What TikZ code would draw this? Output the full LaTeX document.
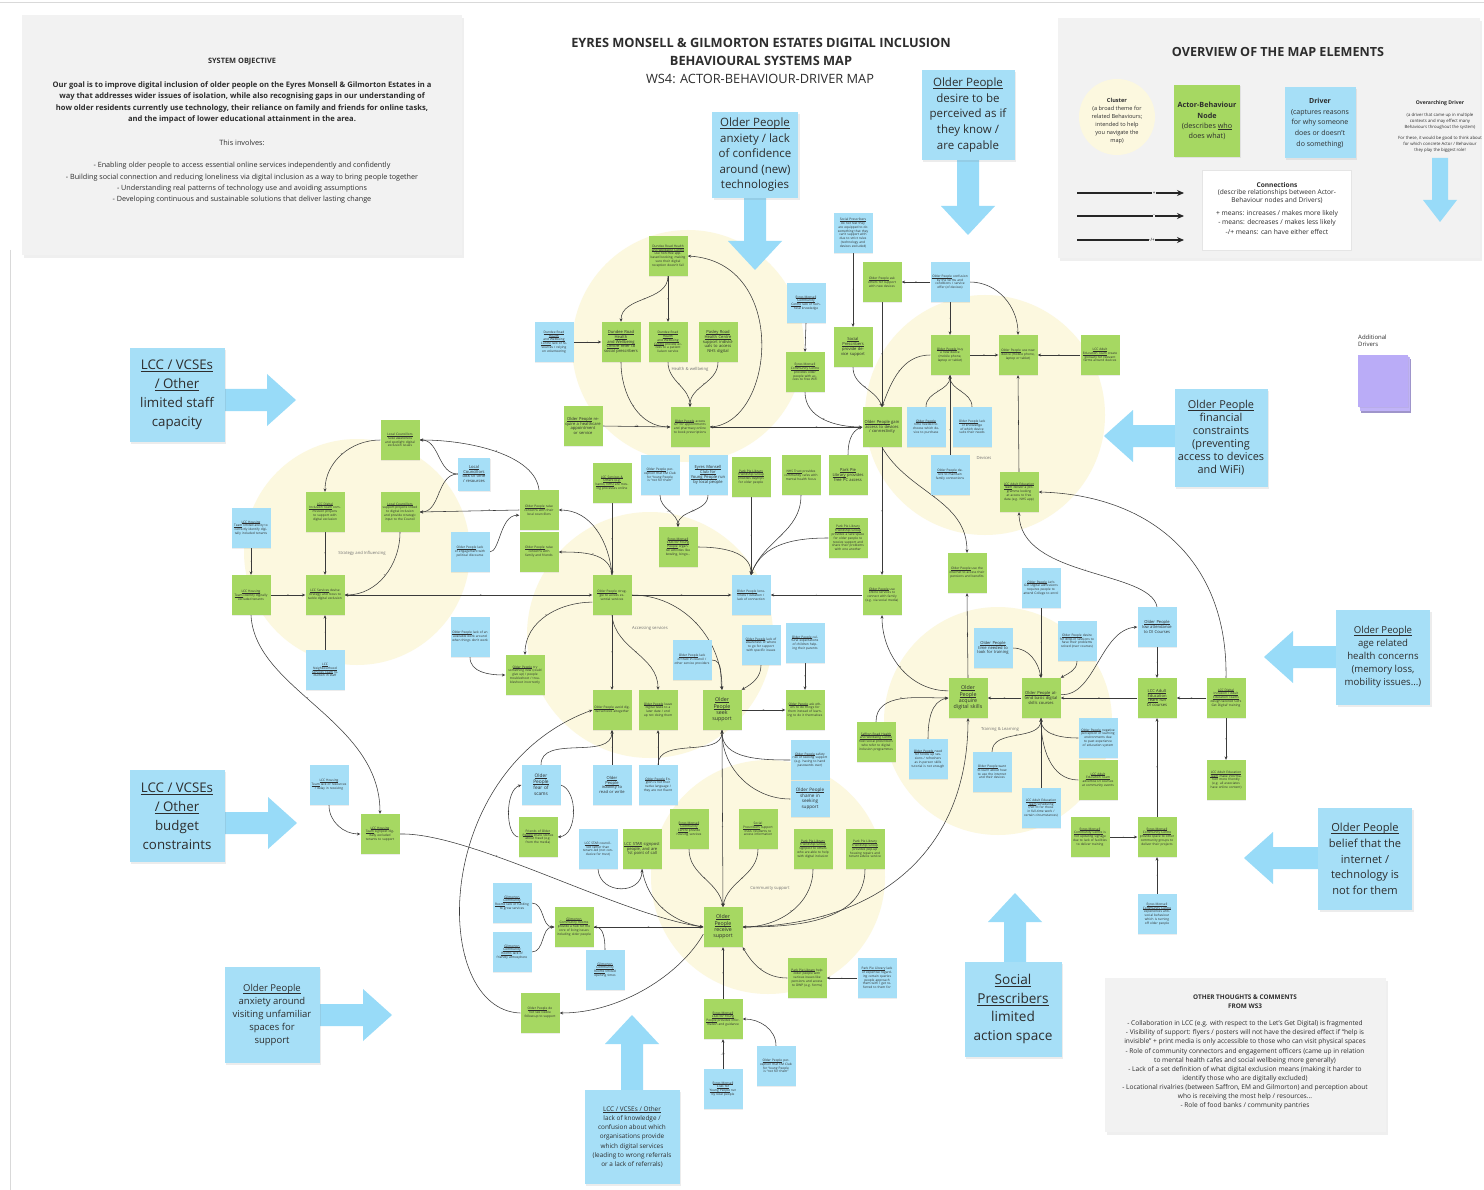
\documentclass[tikz,border=0pt]{standalone}
\usepackage{fontspec}
\setmainfont{Open Sans}
\usetikzlibrary{arrows.meta,shadows}
\definecolor{nodeG}{RGB}{166,216,98}
\definecolor{nodeB}{RGB}{166,223,247}
\definecolor{arrB}{RGB}{152,219,248}
\definecolor{clY}{RGB}{252,248,223}
\definecolor{panelG}{RGB}{242,242,242}
\definecolor{lineC}{RGB}{58,58,58}
\definecolor{textC}{RGB}{45,45,45}
\definecolor{purp}{RGB}{186,172,247}
\newcommand{\actr}[1]{\leavevmode\setbox0\hbox{#1}\rlap{\rule[-0.16em]{\wd0}{0.05em}}\box0\relax}
\newcommand{\fsA}{\fontsize{3.2}{3.85}\selectfont}
\newcommand{\fsB}{\fontsize{4.1}{4.9}\selectfont}
\newcommand{\fsC}{\fontsize{5.3}{6.4}\selectfont}
\newcommand{\arrDown}[3]{\fill[arrB] ({#1-11},#2) -- ({#1+11},#2) -- ({#1+11},{#3-29}) -- ({#1+27},{#3-29}) -- (#1,#3) -- ({#1-27},{#3-29}) -- ({#1-11},{#3-29}) -- cycle;}
\newcommand{\arrUp}[3]{\fill[arrB] ({#1-11},#2) -- ({#1+11},#2) -- ({#1+11},{#3+29}) -- ({#1+27},{#3+29}) -- (#1,#3) -- ({#1-27},{#3+29}) -- ({#1-11},{#3+29}) -- cycle;}
\newcommand{\arrRight}[3]{\fill[arrB] (#2,{#1-11}) -- ({#3-29},{#1-11}) -- ({#3-29},{#1-26}) -- (#3,#1) -- ({#3-29},{#1+26}) -- ({#3-29},{#1+11}) -- (#2,{#1+11}) -- cycle;}
\newcommand{\arrLeft}[3]{\fill[arrB] (#2,{#1-11}) -- ({#3+29},{#1-11}) -- ({#3+29},{#1-26}) -- (#3,#1) -- ({#3+29},{#1+26}) -- ({#3+29},{#1+11}) -- (#2,{#1+11}) -- cycle;}
\pgfdeclarelayer{bg}
\pgfdeclarelayer{mid}
\pgfsetlayers{bg,mid,main}
\tikzset{
  nd/.style={rectangle, minimum width=39pt, minimum height=40pt, text width=35.5pt, align=center, inner sep=1.5pt, text=textC, font=\fsA, drop shadow={opacity=0.15,shadow xshift=0.7pt,shadow yshift=-1pt}},
  gn/.style={nd, fill=nodeG},
  bn/.style={nd, fill=nodeB},
  drv/.style={rectangle, fill=nodeB, align=center, text=textC, inner sep=0pt, drop shadow={opacity=0.15,shadow xshift=1.5pt,shadow yshift=-2pt}},
  panel/.style={rectangle, fill=panelG, inner sep=0pt, drop shadow={opacity=0.12,shadow xshift=2pt,shadow yshift=-3pt}},
  con/.style={draw=lineC, line width=0.55pt, -{Stealth[length=3.4pt,width=3pt]}},
  sg/.style={font=\fontsize{3.4}{3.4}\selectfont, text=lineC, inner sep=0.3pt},
  clu/.style={circle, fill=clY, inner sep=0pt},
  cll/.style={font=\fontsize{4.2}{5}\selectfont, text=black!55},
  txt/.style={text=textC, align=center, inner sep=0pt},
  legarr/.style={draw=black!85, line width=1.4pt, -{Stealth[length=7pt,width=6pt]}}
}
\begin{document}
\begin{tikzpicture}[x=1pt,y=-1pt]
\useasboundingbox (0,0) rectangle (1484,1190);
\begin{pgfonlayer}{bg}
\fill[white] (0,0) rectangle (1484,1190);
\draw[black!15, line width=0.6pt] (0,2) -- (1484,2);
\draw[black!15, line width=0.6pt] (10,250) -- (10,1190);
% panels
\node[panel, minimum width=440pt, minimum height=240pt] (objP) at (242,135) {};
\node[panel, minimum width=422pt, minimum height=240pt] (legP) at (1269,138) {};
\node[panel, minimum width=281pt, minimum height=154pt] (comP) at (1245.5,1055) {};
% clusters
\node[clu, minimum size=232pt] (cH) at (688,346) {};
\node[clu, minimum size=240pt] (cD) at (985,415) {};
\node[clu, minimum size=226pt] (cS) at (357,552) {};
\node[clu, minimum size=246pt] (cA) at (650,635) {};
\node[clu, minimum size=228pt] (cT) at (998,721) {};
\node[clu, minimum size=234pt] (cC) at (768,877) {};
% big driver arrows
\arrDown{755}{190}{270}
\arrDown{968}{155}{235}
\arrRight{400}{220}{296}
\arrLeft{436}{1180}{1104}
\arrLeft{657}{1340}{1264}
\arrRight{823}{220}{297}
\arrLeft{858}{1322}{1244}
\arrUp{1015}{966}{893}
\arrRight{1015}{315}{392}
\arrUp{632}{1095}{1015}
\fill[arrB] (1432,158) -- (1448,158) -- (1448,200) -- (1457,200) -- (1440,222) -- (1423,200) -- (1432,200) -- cycle;
\end{pgfonlayer}

% ---------- titles ----------
\node[txt, font=\fontsize{12.8}{14}\selectfont\bfseries] (tt1) at (761,43) {EYRES MONSELL \& GILMORTON ESTATES DIGITAL INCLUSION};
\node[txt, font=\fontsize{12.8}{14}\selectfont\bfseries] (tt2) at (761,61) {BEHAVIOURAL SYSTEMS MAP};
\node[txt, font=\fontsize{12.8}{14}\selectfont] (tt3) at (760,79) {WS4: ACTOR-BEHAVIOUR-DRIVER MAP};

% ---------- system objective ----------
\node[txt, font=\fontsize{7.4}{8}\selectfont\bfseries] (objT) at (242,62) {SYSTEM OBJECTIVE};
\node[txt, font=\fontsize{7.6}{11.6}\selectfont\bfseries] (objG) at (242,102.5) {Our goal is to improve digital inclusion of older people on the Eyres Monsell \& Gilmorton Estates in a\\way that addresses wider issues of isolation, while also recognising gaps in our understanding of\\how older residents currently use technology, their reliance on family and friends for online tasks,\\and the impact of lower educational attainment in the area.};
\node[txt, font=\fontsize{7.3}{8}\selectfont] (objI) at (242,143) {This involves:};
\node[txt, font=\fontsize{7.2}{11.4}\selectfont] (objB) at (242,183) {- Enabling older people to access essential online services independently and confidently\\- Building social connection and reducing loneliness via digital inclusion as a way to bring people together\\- Understanding real patterns of technology use and avoiding assumptions\\- Developing continuous and sustainable solutions that deliver lasting change};

% ---------- legend ----------
\node[txt, font=\fontsize{12.6}{14}\selectfont\bfseries] (lgT) at (1278,52) {OVERVIEW OF THE MAP ELEMENTS};
\node[circle, fill=clY, minimum size=76pt, inner sep=0pt] (lgC) at (1117,117) {};
\node[txt, font=\fontsize{5.6}{8}\selectfont] (lgCt) at (1117,121) {\textbf{Cluster}\\(a broad theme for\\related Behaviours;\\intended to help\\you navigate the\\map)};
\node[rectangle, fill=nodeG, minimum width=66pt, minimum height=72pt, txt, font=\fontsize{7.2}{10.3}\selectfont, drop shadow={opacity=0.15,shadow xshift=1pt,shadow yshift=-1.5pt}] (lgA) at (1207,121) {\textbf{Actor-Behaviour}\\\textbf{Node}\\(describes \actr{who}\\does what)};
\node[rectangle, fill=nodeB, minimum width=71pt, minimum height=71pt, txt, font=\fontsize{7}{10.7}\selectfont, drop shadow={opacity=0.15,shadow xshift=1pt,shadow yshift=-1.5pt}] (lgD) at (1320,123) {\textbf{Driver}\\(captures reasons\\for why someone\\does or doesn't\\do something)};
\node[txt, font=\fontsize{5.1}{6}\selectfont\bfseries] (lgO1) at (1440,103) {Overarching Driver};
\node[txt, font=\fontsize{4.3}{6}\selectfont] (lgO2) at (1440,121) {(a driver that came up in multiple\\contexts and may effect many\\Behaviours throughout the system)};
\node[txt, font=\fontsize{4.3}{6}\selectfont] (lgO3) at (1440,144) {For these, it would be good to think about\\for which concrete Actor / Behaviour\\they play the biggest role!};
\node[rectangle, fill=white, draw=black!10, minimum width=149pt, minimum height=80pt] (lgB) at (1277,210) {};
\node[txt, font=\fontsize{6.6}{8}\selectfont\bfseries] (lgB1) at (1277,185) {Connections};
\node[txt, font=\fontsize{6.6}{8}\selectfont] (lgB2) at (1277,197) {(describe relationships between Actor-\\Behaviour nodes and Drivers)};
\node[txt, font=\fontsize{6.7}{9.5}\selectfont] (lgB3) at (1277,222.5) {+ means: increases / makes more likely\\- means: decreases / makes less likely\\-/+ means: can have either effect};
\coordinate (la1) at (1077,193); \coordinate (lb1) at (1184,193);
\coordinate (la2) at (1077,216); \coordinate (lb2) at (1184,216);
\coordinate (la3) at (1077,240); \coordinate (lb3) at (1184,240);
\draw[legarr] (la1) -- node[pos=0.72, font=\fontsize{4.5}{4.5}\selectfont, inner sep=0.5pt, fill=panelG]{+} (lb1);
\draw[legarr] (la2) -- node[pos=0.72, font=\fontsize{4.5}{4.5}\selectfont, inner sep=0.5pt, fill=panelG]{-} (lb2);
\draw[legarr] (la3) -- node[pos=0.70, font=\fontsize{4.5}{4.5}\selectfont, inner sep=0.5pt, fill=panelG]{-/+} (lb3);

% additional drivers
\node[font=\fontsize{6}{7.5}\selectfont, text=textC, align=left, anchor=west, inner sep=0pt] (adT) at (1358,341) {Additional\\Drivers};
\fill[purp!80!black!90] (1361,359) rectangle (1411,413);
\fill[purp!90] (1359.5,357) rectangle (1409.5,411);
\node[rectangle, fill=purp, minimum width=50pt, minimum height=52pt, inner sep=0pt, drop shadow={opacity=0.12,shadow xshift=1pt,shadow yshift=-1pt}] (adP) at (1383,381) {};

% ---------- comments ----------
\node[txt, font=\fontsize{6.4}{9}\selectfont\bfseries] (cmT) at (1245,1001.5) {OTHER THOUGHTS \& COMMENTS\\FROM WS3};
\node[txt, font=\fontsize{6.6}{9.1}\selectfont] (cmB) at (1245,1065) {- Collaboration in LCC (e.g. with respect to the Let's Get Digital) is fragmented\\- Visibility of support: flyers / posters will not have the desired effect if ``help is\\invisible'' + print media is only accessible to those who can visit physical spaces\\- Role of community connectors and engagement officers (came up in relation\\to mental health cafes and social wellbeing more generally)\\- Lack of a set definition of what digital exclusion means (making it harder to\\identify those who are digitally excluded)\\- Locational rivalries (between Saffron, EM and Gilmorton) and perception about\\who is receiving the most help / resources...\\- Role of food banks / community pantries};

% ---------- big drivers ----------
\node[drv, minimum width=86pt, minimum height=86pt, font=\fontsize{11.5}{15.5}\selectfont] (D1) at (755,155) {\actr{Older People}\\anxiety / lack\\of confidence\\around (new)\\technologies};
\node[drv, minimum width=93pt, minimum height=90pt, font=\fontsize{11.5}{15.8}\selectfont] (D2) at (968,115) {\actr{Older People}\\desire to be\\perceived as if\\they know /\\are capable};
\node[drv, minimum width=95pt, minimum height=94pt, font=\fontsize{13.3}{19}\selectfont] (D3) at (177,395) {\actr{LCC / VCSEs}\\\actr{/ Other}\\limited staff\\capacity};
\node[drv, minimum width=93pt, minimum height=97pt, font=\fontsize{10.9}{13}\selectfont] (D4) at (1221,438) {\actr{Older People}\\financial\\constraints\\(preventing\\access to devices\\and WiFi)};
\node[drv, minimum width=94pt, minimum height=95pt, font=\fontsize{9.6}{13}\selectfont] (D5) at (1383,657) {\actr{Older People}\\age related\\health concerns\\(memory loss,\\mobility issues...)};
\node[drv, minimum width=95pt, minimum height=92pt, font=\fontsize{13.3}{19}\selectfont] (D6) at (177,816) {\actr{LCC / VCSEs}\\\actr{/ Other}\\budget\\constraints};
\node[drv, minimum width=94pt, minimum height=102pt, font=\fontsize{11.1}{15.7}\selectfont] (D7) at (1365,859) {\actr{Older People}\\belief that the\\internet /\\technology is\\not for them};
\node[drv, minimum width=97pt, minimum height=95pt, font=\fontsize{13.6}{18.8}\selectfont] (D8) at (1013,1009) {\actr{Social}\\\actr{Prescribers}\\limited\\action space};
\node[drv, minimum width=95pt, minimum height=96pt, font=\fontsize{9.5}{13}\selectfont] (D9) at (272,1015) {\actr{Older People}\\anxiety around\\visiting unfamiliar\\spaces for\\support};
\node[drv, minimum width=95pt, minimum height=94pt, font=\fontsize{6.4}{9.2}\selectfont] (D10) at (632,1137) {\actr{LCC / VCSEs / Other}\\lack of knowledge /\\confusion about which\\organisations provide\\which digital services\\(leading to wrong referrals\\or a lack of referrals)};

% ---------- Health & wellbeing ----------
\node[gn] (h1) at (668,256) {\actr{Dundee Road Health}\\\actr{and Wellbeing Centre} use non-free app-based booking, making sure their digital reception doesn't fail};
\node[bn] (h2) at (554,342) {\actr{Dundee Road}\\\actr{Health}\\\actr{and Wellbeing}\\\actr{Centre} lack of resources / relying on volunteering};
\node[gn, font=\fsB] (h3) at (621,342) {\actr{Dundee Road}\\\actr{Health}\\\actr{and Wellbeing}\\\actr{Centre} refer to social prescribers};
\node[gn] (h4) at (668,342) {\actr{Dundee Road}\\\actr{Health}\\\actr{and Wellbeing}\\\actr{Centre} provide access to a patient liaison service};
\node[gn, font=\fsB] (h5) at (718,342) {\actr{Pasley Road}\\\actr{Health Centre} support individuals to access NHS digital};
\node[gn, font=\fsB] (h6) at (583,426) {\actr{Older People} require a healthcare appointment or service};
\node[gn] (h7) at (690,427) {\actr{Older People} access GP for appointments and pharmacy online to book prescriptions};
\node[gn] (a1) at (612,483) {\actr{LCC Services \&}\\\actr{Others (e.g.}\\\actr{banks, NHS)} are moving processes online};
\node[bn] (a2) at (660,475) {\actr{Older People} perception that EM Club for Young People is ``not for them''};
\node[bn, font=\fsB] (a3) at (708,475) {\actr{Eyres Monsell}\\\actr{Club for}\\\actr{Young People} run by local people};
\node[gn] (a4) at (751,477) {\actr{Park Pie Library}\\\actr{Friendship Group} provides daytrips for older people};
\node[gn] (d1) at (801,475) {\actr{NHS Trust} provides community cafes with mental health focus};
\node[gn, font=\fsB] (d2) at (848,475) {\actr{Park Pie}\\\actr{Library} provides free PC access};

% ---------- Devices ----------
\node[bn] (d3) at (853,233) {\actr{Social Prescribers} do not feel they are equipped to do something that they can't support with due to strict rules (technology and devices excluded)};
\node[gn] (d4) at (882,282) {\actr{Older People} ask others for support with new devices};
\node[bn] (d5) at (950,282) {\actr{Older People} confusion by the terms and conditions / service offer (of devices)};
\node[bn] (d6) at (806,303) {\actr{Eyres Monsell}\\\actr{Community}\\\actr{Centre} lack of technical knowledge};
\node[gn, font=\fsB] (d7) at (853,347) {\actr{Social}\\\actr{Prescribers} provide device support};
\node[gn] (d8) at (805,372) {\actr{Eyres Monsell}\\\actr{Community Centre} provides older people with access to free WiFi};
\node[gn] (d9) at (950,355) {\actr{Older People} buy a new device (mobile phone, laptop or tablet)};
\node[gn] (d10) at (1018,355) {\actr{Older People} use new device (mobile phone, laptop or tablet)};
\node[gn] (d11) at (1100,355) {\actr{LCC Adult}\\\actr{Education Team} create glossary for relevant terms around devices};
\node[gn, font=\fsB] (d12) at (882,427) {\actr{Older People} gain access to devices / connectivity};
\node[bn] (d13) at (926,427) {\actr{Older People} time needed to choose which device to purchase};
\node[bn] (d14) at (972,427) {\actr{Older People} lack of knowledge of which device suits their needs};
\node[bn] (d15) at (950,475) {\actr{Older People} desire to maintain family connections};
\node[gn] (d16) at (1019,492) {\actr{LCC Adult Education}\\\actr{Team} deliver a programme looking at access to free data (e.g. NHS app)};

% ---------- Strategy and influencing ----------
\node[gn] (s1) at (400,440) {\actr{Local Councillors} raise awareness and spotlight digital exclusion issues};
\node[bn, font=\fsB, minimum width=32pt, minimum height=33pt, text width=29pt] (s2) at (474,474) {\actr{Local}\\\actr{Councillors} lack of time / resources};
\node[gn] (s3) at (325,512) {\actr{LCC Digital}\\\actr{Inclusion Team} commission projects to support with digital exclusion};
\node[gn] (s4) at (400,512) {\actr{Local Councillors} support projects linked to digital inclusion and provide strategic input to the Council};
\node[bn] (s5) at (251,528) {\actr{LCC Housing}\\\actr{Team} limited ability to correctly identify digitally included tenants};
\node[gn] (s6) at (251,595) {\actr{LCC Housing}\\\actr{Team} identify digitally excluded tenants};
\node[gn] (s7) at (325,595) {\actr{LCC Services} devise strategy and focus to tackle digital exclusion};
\node[bn] (s8) at (325,670) {\actr{LCC}\\\actr{Neighbourhood}\\\actr{Services Team} reduction in staff};
\node[bn] (s9) at (470,552) {\actr{Older People} lack of engagement with political discourse};
\node[bn] (s10) at (470,637) {\actr{Older People} lack of an available work around when things don't work};
\node[bn] (s11) at (329,785) {\actr{LCC Housing}\\\actr{Team} lack of resources / delay in receiving};
\node[gn] (s12) at (380,834) {\actr{LCC Housing}\\\actr{Team} signpost digitally excluded tenants to support};

% ---------- Accessing services ----------
\node[gn] (a5) at (539,510) {\actr{Older People} raise concerns with their local councillors};
\node[gn] (a6) at (539,552) {\actr{Older People} raise concerns with family and friends};
\node[gn] (a7) at (678,547) {\actr{Eyres Monsell}\\\actr{Club for Young}\\\actr{People} organise activities like bowling, bingo...};
\node[gn] (a8) at (612,595) {\actr{Older People} struggle to access essential services};
\node[bn] (a9) at (751,595) {\actr{Older People} loneliness / isolation / lack of connection};
\node[gn] (a10) at (525,675) {\actr{Older People} try something new (could give up) / people troubleshoot / troubleshoot incorrectly};
\node[bn] (a11) at (692,660) {\actr{Older People} lack of trust in council / other service providers};
\node[gn] (a12) at (612,710) {\actr{Older People} avoid digital services altogether};
\node[gn] (a13) at (658,710) {\actr{Older People} leave digital tasks to a later date / end up not doing them};
\node[gn, font=\fsC] (a14) at (722,710) {\actr{Older}\\\actr{People}\\seek\\support};
\node[bn, font=\fontsize{4.8}{6}\selectfont] (a15) at (541,785) {\actr{Older}\\\actr{People}\\fear of\\scams};
\node[bn, font=\fsB] (a16) at (612,785) {\actr{Older}\\\actr{People}\\inability to\\read or write};
\node[bn] (a17) at (658,785) {\actr{Older People} English is not their native language / they are not fluent};
\node[gn] (a18) at (848,538) {\actr{Park Pie Library}\\\actr{Friendship Group} provides a safe space for older people to receive support and share their problems with one another};
\node[gn] (a19) at (882,595) {\actr{Older People} use online services to connect with family (e.g. via social media)};
\node[gn] (a20) at (967,573) {\actr{Older People} use the internet to access their pensions and benefits};
\node[bn] (a21) at (761,645) {\actr{Older People} lack of awareness of where to go for support with specific issues};
\node[bn] (a22) at (805,643) {\actr{Older People} cultural expectations of children helping their parents};
\node[gn] (a23) at (805,710) {\actr{Older People} ask others to do things for them instead of learning to do it themselves};
\node[bn] (a24) at (810,760) {\actr{Older People} safety risk of seeking support (e.g. having to hand passwords over)};
\node[bn, font=\fontsize{4.6}{5.6}\selectfont, minimum height=36pt] (a25) at (810,799) {\actr{Older People}\\shame in\\seeking\\support};

% ---------- Training & Learning ----------
\node[bn, font=\fsB] (t1) at (993,648) {\actr{Older People} time needed to look for training};
\node[gn, font=\fsC] (t2) at (968,698) {\actr{Older}\\\actr{People}\\acquire\\digital skills};
\node[gn] (t3) at (876,742) {\actr{Saffron Road Health}\\\actr{and Wellbeing Centre} host social prescribers who refer to digital inclusion programmes};
\node[bn] (t4) at (928,759) {\actr{Older People} need for follow up sessions / refreshers as in-person skills tutorial is not enough};
\node[bn] (t5) at (992,772) {\actr{Older People} want to learn about how to use the internet and their devices};
\node[bn] (t6) at (1041,588) {\actr{Older People} Let's Get Digital admissions requires people to attend College to enrol};
\node[bn] (t7) at (1077,641) {\actr{Older People} desire for drop-in sessions to have their problems solved (over courses)};
\node[bn, font=\fsB] (t8) at (1157,627) {\actr{Older People} low attendance to DI Courses};
\node[gn, font=\fsB] (t9) at (1041,698) {\actr{Older People} attend basic digital skills courses};
\node[gn, font=\fsB] (t10) at (1157,698) {\actr{LCC Adult}\\\actr{Education}\\\actr{Team} run DI courses};
\node[gn] (t11) at (1226,698) {\actr{LCC Digital}\\\actr{Inclusion / Adult}\\\actr{Education Teams} design tailored `Let's Get Digital' training};
\node[bn] (t12) at (1098,738) {\actr{Older People} negative perception of learning environments due to past experience of education system};
\node[gn] (t13) at (1098,780) {\actr{LCC Adult}\\\actr{Education Team} advertise DI courses at community events};
\node[bn] (t14) at (1041,808) {\actr{LCC Adult Education}\\\actr{Team} scheduling (not fit for those in full-time work / certain circumstances)};
\node[gn] (t15) at (1226,780) {\actr{LCC Adult Education}\\\actr{Team} make information more friendly (e.g. all associates have online content)};
\node[gn] (t16) at (1090,837) {\actr{Eyres Monsell}\\\actr{Community Centre} is not updating signage due to lack of facilities to deliver training};
\node[gn] (t17) at (1157,837) {\actr{Eyres Monsell}\\\actr{Community Centre} provide space to other community groups to deliver their projects};
\node[bn] (t18) at (1157,914) {\actr{Eyres Monsell}\\\actr{Community Centre} experiences anti-social behaviour which is turning off older people};

% ---------- Community support ----------
\node[gn] (c1) at (538,837) {\actr{Friends of Older}\\\actr{People} share stories about fraud (e.g. from the media)};
\node[bn] (c2) at (598,849) {\actr{LCC STAR} council-led rather than tenant-led (not conducive for trust)};
\node[gn, font=\fsB] (c3) at (642,849) {\actr{LCC STAR} signpost people, and are 1st point of call};
\node[gn] (c4) at (689,829) {\actr{Eyres Monsell}\\\actr{Community}\\\actr{Centre} provide housing services};
\node[gn] (c5) at (758,829) {\actr{Social}\\\actr{Prescribers} support ESOL residents to access information};
\node[gn] (c6) at (813,849) {\actr{Park Pie Library}\\\actr{Friendship Group} signpost to others who are able to help with digital inclusion};
\node[gn] (c7) at (865,849) {\actr{Park Pie Library}\\\actr{Friendship Group} provides pop-up housing repairs and tenant advice service};
\node[bn] (c8) at (512,903) {\actr{Gilmorton}\\\actr{Community}\\\actr{Rooms} lack of funding to grow services};
\node[bn] (c9) at (512,952) {\actr{Gilmorton}\\\actr{Community}\\\actr{Rooms} lack of friendly atmosphere};
\node[gn] (c10) at (574,927) {\actr{Gilmorton}\\\actr{Community Rooms} provide a hub for the core of living issues including older people};
\node[bn] (c11) at (605,970) {\actr{Gilmorton}\\\actr{Community}\\\actr{Rooms} limited opening times};
\node[gn, font=\fsC] (c12) at (723,927) {\actr{Older}\\\actr{People}\\receive\\support};
\node[gn] (c13) at (540,1013) {\actr{Older People} do not see visible follow-up to support};
\node[gn] (c14) at (723,1019) {\actr{Eyres Monsell}\\\actr{Club for Young}\\\actr{People} provides information and guidance};
\node[bn] (c15) at (723,1089) {\actr{Eyres Monsell}\\\actr{Club for}\\\actr{Young People} run by local people};
\node[gn] (c16) at (807,978) {\actr{Park Pie Library} help older people with various issues like pensions and access to DWP (e.g. forms)};
\node[bn] (c17) at (877,978) {\actr{Park Pie Library} lack of expertise regarding certain queries people approach them with / get referred to them for};
\node[bn] (c18) at (776,1066) {\actr{Older People} perception that EM Club for Young People is ``not for them''};

\begin{pgfonlayer}{mid}
% cluster labels
\node[cll] (cHl) at (690,369) {Health \& wellbeing};
\node[cll] (cDl) at (984,458) {Devices};
\node[cll] (cSl) at (362,553) {Strategy and Influencing};
\node[cll] (cAl) at (650,628) {Accessing services};
\node[cll] (cTl) at (1000,729) {Training \& Learning};
\node[cll] (cCl) at (770,888) {Community support};

% health
\draw[con] (h1.south) to[out=-90,in=90] node[sg]{+} (h3.north);
\draw[con] (h1.south) -- node[sg]{+} (h4.north);
\draw[con] (h2.east) -- node[sg]{-} (h3.west);
\draw[con] (h3.south) to[out=-90,in=180] node[sg]{+} (h7.west);
\draw[con] (h4.south) to[out=-90,in=90] node[sg]{+} (h7.north);
\draw[con] (h5.south) to[out=-90,in=90] node[sg]{+} (h7.north);
\draw[con] (h6.east) -- node[sg]{-/+} (h7.west);
\draw[con] (h7.east) .. controls (775,425) and (790,262) .. (h1.east) node[sg,pos=0.5]{+};
\draw[con] (d12.west) -- node[sg,pos=0.3]{+} (h7.east);

% devices
\draw[con] (d3.south) -- node[sg]{-} (d7.north);
\draw[con] (d7.south) to[out=-90,in=110] node[sg]{+} (d12.north);
\draw[con] (d4.south) -- node[sg]{+} (d12.north);
\draw[con] (d5.west) -- node[sg]{+} (d4.east);
\draw[con] (d5.south) -- node[sg]{-} (d9.north);
\draw[con] (d5.east) to[out=0,in=90] node[sg]{-} (d10.north);
\draw[con] (d9.west) to[out=180,in=70] node[sg]{+} (d12.north);
\draw[con] (d9.east) -- node[sg]{+} (d10.west);
\draw[con] (d13.north) to[out=90,in=-90] node[sg]{-} (d9.south);
\draw[con] (d14.north) to[out=90,in=-90] node[sg]{-} (d9.south);
\draw[con] (d15.north) -- node[sg,pos=0.3]{+} (d9.south);
\draw[con] (d6.south) -- node[sg]{-} (d8.north);
\draw[con] (d8.south) to[out=-90,in=180] node[sg]{+} (d12.west);
\draw[con] (d11.west) -- node[sg]{+} (d10.east);
\draw[con] (d16.north) -- node[sg]{+} (d10.south);
\draw[con] (d2.north) to[out=90,in=200] (d12.west);
\draw[con] (d12.south) -- node[sg]{+} (a19.north);
\draw[con] (d12.south) to[out=-60,in=90] node[sg]{+} (a20.north);
\draw[con] (t11.north) .. controls (1228,560) and (1150,495) .. (d16.east) node[sg,pos=0.45]{-};
\draw[con] (t8.north) .. controls (1150,570) and (1020,578) .. (d16.south) node[sg,pos=0.5]{-};

% strategy
\draw[con] (s1.west) to[out=180,in=90] node[sg]{+} (s3.north);
\draw[con] (s2.west) to[out=180,in=0] node[sg]{-} (s1.east);
\draw[con] (s2.west) to[out=180,in=0] node[sg]{-} (s4.east);
\draw[con] (a5.north) .. controls (535,455) and (470,440) .. (s1.east) node[sg,pos=0.5]{+};
\draw[con] (a5.west) -- node[sg,pos=0.3]{+} (s4.east);
\draw[con] (s4.south) to[out=-90,in=0] node[sg]{+} (s7.east);
\draw[con] (s3.south) -- node[sg]{+} (s7.north);
\draw[con] (s5.south) -- node[sg]{-} (s6.north);
\draw[con] (s6.east) -- node[sg]{+} (s7.west);
\draw[con] (s8.north) -- node[sg]{-} (s7.south);
\draw[con,{Stealth[length=3.4pt,width=3pt]}-{Stealth[length=3.4pt,width=3pt]}] (s7.east) -- node[sg,pos=0.55]{+} (a8.west);
\draw[con] (s9.east) .. controls (500,552) and (500,515) .. (a5.195);
\draw[con] (s6.south) .. controls (255,690) and (380,720) .. (s12.north) node[sg,pos=0.45]{+};
\draw[con] (s11.south) to[out=-90,in=180] node[sg]{-} (s12.west);
\draw[con] (s12.east) .. controls (470,832) and (620,915) .. (c12.west) node[sg,pos=0.35]{+};
\draw[con] (s10.south) to[out=-90,in=180] node[sg]{-} (a10.west);

% accessing services
\draw[con] (a1.south) -- node[sg]{+} (a8.north);
\draw[con] (a8.north) to[out=95,in=0] node[sg]{+} (a5.east);
\draw[con] (a8.north) to[out=95,in=0] node[sg]{+} (a6.east);
\draw[con] (a8.200) to[out=180,in=90] node[sg]{+} (a10.north);
\draw[con] (a8.south) -- node[sg]{+} (a12.north);
\draw[con] (a8.south) to[out=-85,in=90] node[sg]{+} (a13.north);
\draw[con] (a8.east) -- node[sg]{+} (a9.west);
\draw[con] (a8.east) to[out=0,in=90] node[sg]{+} (a14.north);
\draw[con] (a11.east) to[out=0,in=100] node[sg]{-} (a14.north);
\draw[con] (a21.south) to[out=-90,in=30] node[sg]{-} (a14.north east);
\draw[con] (a14.east) -- node[sg]{+} (a23.west);
\draw[con] (a22.south) -- node[sg]{+} (a23.north);
\draw[con] (a7.east) to[out=0,in=90] node[sg]{-} (a9.north);
\draw[con] (a18.west) to[out=180,in=70] node[sg]{-} (a9.north);
\draw[con] (a19.west) -- node[sg]{-} (a9.east);
\draw[con] (a2.south) to[out=-90,in=90] node[sg]{-/+} (a7.north);
\draw[con] (a3.south) to[out=-90,in=90] node[sg]{-/+} (a7.north);
\draw[con] (a4.south) -- node[sg]{-} (a9.north);
\draw[con] (d1.south) to[out=-90,in=70] node[sg]{-} (a9.north);
\draw[con] (a15.north) to[out=90,in=-90] node[sg]{-} (a12.south);
\draw[con] (a16.north) -- node[sg]{-} (a12.south);
\draw[con] (a17.north) -- node[sg]{-} (a13.south);
\draw[con] (a17.north) to[out=90,in=-90] node[sg]{+} (a14.south);
\draw[con] (a24.west) to[out=180,in=-90] node[sg]{-} (a14.south);
\draw[con] (a25.west) to[out=180,in=-90] node[sg]{-} (a14.south);
\draw[con] (a14.south) -- node[sg,pos=0.55]{+} (c12.north);
\draw[con] (c13.west) .. controls (430,1010) and (430,770) .. (a12.west) node[sg,pos=0.3]{+};

% community support
\draw[con] (c12.200) .. controls (680,975) and (620,1013) .. (c13.east) node[sg,pos=0.4]{-};
\draw[con] (c1.west) .. controls (505,835) and (505,790) .. (a15.west) node[sg,pos=0.5]{+};
\draw[con] (a15.east) .. controls (578,790) and (578,835) .. (c1.east) node[sg,pos=0.5]{+};
\draw[con] (c8.east) to[out=0,in=180] node[sg]{-} (c10.west);
\draw[con] (c9.east) to[out=0,in=180] node[sg]{-} (c10.west);
\draw[con] (c10.east) -- node[sg]{+} (c12.west);
\draw[con] (c11.north) to[out=90,in=0] (c10.east);
\draw[con] (c2.south) .. controls (600,895) and (642,895) .. (c3.south) node[sg,pos=0.5]{-};
\draw[con] (c3.south) to[out=-80,in=170] node[sg]{+} (c12.west);
\draw[con] (c4.south) to[out=-90,in=100] node[sg]{+} (c12.north);
\draw[con] (c5.south) to[out=-90,in=80] node[sg]{+} (c12.north);
\draw[con] (c6.south) to[out=-90,in=0] node[sg]{+} (c12.east);
\draw[con] (c7.south) to[out=-90,in=0] node[sg]{+} (c12.east);
\draw[con] (c12.east) .. controls (880,925) and (968,850) .. (t2.south) node[sg,pos=0.6]{+};
\draw[con] (c16.west) to[out=180,in=-60] node[sg]{+} (c12.south east);
\draw[con] (c17.west) -- node[sg]{-} (c16.east);
\draw[con] (c14.north) -- node[sg]{+} (c12.south);
\draw[con] (c15.north) -- node[sg]{-/+} (c14.south);
\draw[con] (c18.north) to[out=90,in=0] node[sg]{-} (c14.east);

% training & learning
\draw[con] (t2.north) -- node[sg]{+} (a20.south);
\draw[con] (t2.160) to[out=180,in=-90] node[sg]{+} (a19.south);
\draw[con] (t3.north) to[out=90,in=180] node[sg]{+} (t2.west);
\draw[con] (t4.north) to[out=90,in=190] node[sg]{-} (t2.west);
\draw[con] (t9.west) -- node[sg]{+} (t2.east);
\draw[con] (t6.south) -- node[sg]{-} (t9.north);
\draw[con] (t1.east) to[out=0,in=100] node[sg]{-} (t9.north);
\draw[con] (t7.south) to[out=-90,in=30] node[sg]{-} (t9.north east);
\draw[con] (t9.10) .. controls (1095,697) and (1100,630) .. (t8.west) node[sg,pos=0.5]{-};
\draw[con] (t10.west) -- node[sg]{+} (t9.east);
\draw[con] (t8.south) -- node[sg]{-} (t10.north);
\draw[con] (t11.west) -- node[sg]{+} (t10.east);
\draw[con] (t11.south) -- node[sg]{+} (t15.north);
\draw[con] (t12.west) to[out=180,in=-90] node[sg]{-} (t9.south);
\draw[con] (t13.west) to[out=180,in=-90] node[sg]{+} (t9.south);
\draw[con] (t14.north) -- node[sg]{-} (t9.south);
\draw[con] (t5.north) to[out=90,in=-90] node[sg]{+} (t9.south);
\draw[con] (t17.north) -- node[sg]{+} (t10.south);
\draw[con] (t16.east) -- node[sg]{-} (t17.west);
\draw[con] (t18.north) -- node[sg]{-} (t17.south);
\end{pgfonlayer}
\end{tikzpicture}
\end{document}
